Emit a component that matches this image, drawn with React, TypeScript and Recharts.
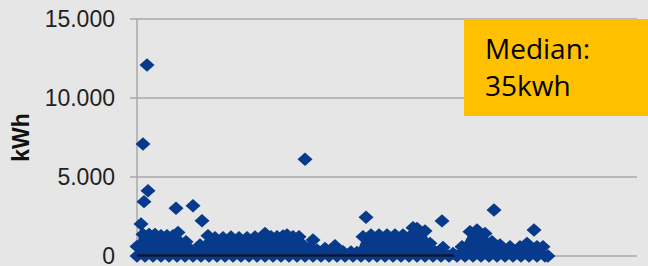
import React from "react";
import { ComposedChart, Area, Scatter, XAxis, YAxis, CartesianGrid } from "recharts";

const BLUE = "#083a8c";
const GRID = "#a9a9a9";

// x = position of a meter along the unlabelled horizontal axis, values in kWh
const bandX = [
  0, 4, 6, 12, 18, 24, 30, 36, 41, 49, 54, 63, 71, 78, 86, 94, 102, 110, 118, 124,
  128, 134, 140, 146, 150, 156, 162, 166, 176, 180, 188, 198, 206, 214, 220, 226,
  234, 242, 250, 258, 266, 276, 280, 281, 288, 293, 298, 306, 316, 325, 333, 340,
  348, 355, 363, 373, 383, 390, 400, 406, 411,
];
const bandKwh = [
  600, 2030, 1370, 1370, 1370, 1285, 1285, 1285, 1495, 905, 380, 700, 1285, 1160, 1160, 1200, 1160, 1160, 1200, 1160,
  1430, 1220, 1220, 1265, 1330, 1220, 1220, 700, 1010, 380, 480, 650, 270, 250, 230, 1220,
  1330, 1330, 1330, 1330, 1330, 1790, 1750, 1330, 1580, 800, 270, 545, 165, 590, 1540, 1645,
  1430, 905, 700, 590, 590, 800, 590, 590, 0,
];
const floorX = [
  0, 8, 16, 24, 32, 40, 48, 56, 64, 72, 80, 88, 96, 104, 112, 120, 128, 136, 144, 152,
  160, 168, 176, 184, 192, 200, 208, 216, 224, 232, 240, 248, 256, 264, 272, 280, 288,
  296, 304, 312, 320, 328, 336, 344, 352, 360, 368, 376, 384, 392, 400, 408,
];
const outlierX = [10, 6, 11, 7, 39, 56, 65, 168, 229, 305, 357, 397];
const outlierKwh = [12090, 7090, 4130, 3440, 3020, 3185, 2235, 6120, 2450, 2220, 2910, 1650];
const medianLineX = [0, 317];
const medianKwh = 35;
const yTicks = [0, 5000, 10000, 15000];

const band = bandX.map((x, i) => ({ x, kwh: bandKwh[i] }));
const floor = floorX.map((x) => ({ x, kwh: 0 }));
const outliers = outlierX.map((x, i) => ({ x, kwh: outlierKwh[i] }));
const medianLine = medianLineX.map((x) => ({ x, kwh: medianKwh }));

const fmt = (v: number) => String(v).replace(/\B(?=(\d{3})+(?!\d))/g, ".");

const Diamond = (props: any) => {
  const { cx, cy } = props;
  if (cx == null || cy == null) return null;
  return (
    <path
      d={`M${cx},${cy - 6.7}L${cx + 7.5},${cy}L${cx},${cy + 6.7}L${cx - 7.5},${cy}Z`}
      fill={BLUE}
    />
  );
};

const NoMark = () => null;

const AxisTitle = (props: any) => {
  const vb = props.viewBox || { x: 0, y: 19, width: 137, height: 237 };
  const cx = vb.x + 21;
  const cy = vb.y + vb.height / 2;
  return (
    <text
      x={cx}
      y={cy}
      transform={`rotate(-90, ${cx}, ${cy})`}
      textAnchor="middle"
      dominantBaseline="central"
      fontFamily="Liberation Sans, Arial, sans-serif"
      fontWeight="bold"
      fontSize={23}
      fill="#111"
    >
      kWh
    </text>
  );
};

export default function App() {
  return (
    <div
      style={{
        position: "absolute",
        left: 0,
        top: 0,
        width: 648,
        height: 266,
        background: "#e6e6e6",
        overflow: "hidden",
      }}
    >
      <ComposedChart
        width={648}
        height={266}
        data={band}
        margin={{ top: 19, right: 11, bottom: 10, left: 0 }}
      >
        <CartesianGrid vertical={false} stroke={GRID} strokeWidth={1.5} />
        <XAxis
          type="number"
          dataKey="x"
          domain={[0, 500]}
          tick={false}
          tickLine={false}
          height={0}
          axisLine={{ stroke: GRID, strokeWidth: 1.5 }}
        />
        <YAxis
          type="number"
          dataKey="kwh"
          domain={[0, 15000]}
          ticks={yTicks}
          interval={0}
          width={137}
          tickSize={7}
          tickMargin={15}
          tickFormatter={fmt}
          tick={{ fontSize: 23, fill: "#222", fontFamily: "Liberation Sans, Arial, sans-serif" }}
          tickLine={{ stroke: GRID, strokeWidth: 1.5 }}
          axisLine={{ stroke: GRID, strokeWidth: 1.5 }}
          label={<AxisTitle />}
        />
        <Area
          dataKey="kwh"
          type="linear"
          stroke="none"
          fill={BLUE}
          fillOpacity={1}
          baseValue={0}
          dot={false}
          activeDot={false}
          isAnimationActive={false}
        />
        <Scatter data={band} dataKey="kwh" shape={Diamond} isAnimationActive={false} />
        <Scatter data={floor} dataKey="kwh" shape={Diamond} isAnimationActive={false} />
        <Scatter data={outliers} dataKey="kwh" shape={Diamond} isAnimationActive={false} />
        <Scatter
          data={medianLine}
          dataKey="kwh"
          shape={NoMark}
          line={{ stroke: "#0b1633", strokeWidth: 2.5 }}
          lineType="joint"
          isAnimationActive={false}
        />
      </ComposedChart>
      <div
        style={{
          position: "absolute",
          left: 464,
          top: 19,
          width: 184,
          height: 97,
          background: "#ffc000",
          boxSizing: "border-box",
          paddingTop: 11,
          paddingLeft: 21,
          fontFamily: "'Open Sans', sans-serif",
          fontSize: 28,
          lineHeight: "37px",
          color: "#000",
        }}
      >
        <div>Median:</div>
        <div>35kwh</div>
      </div>
    </div>
  );
}
